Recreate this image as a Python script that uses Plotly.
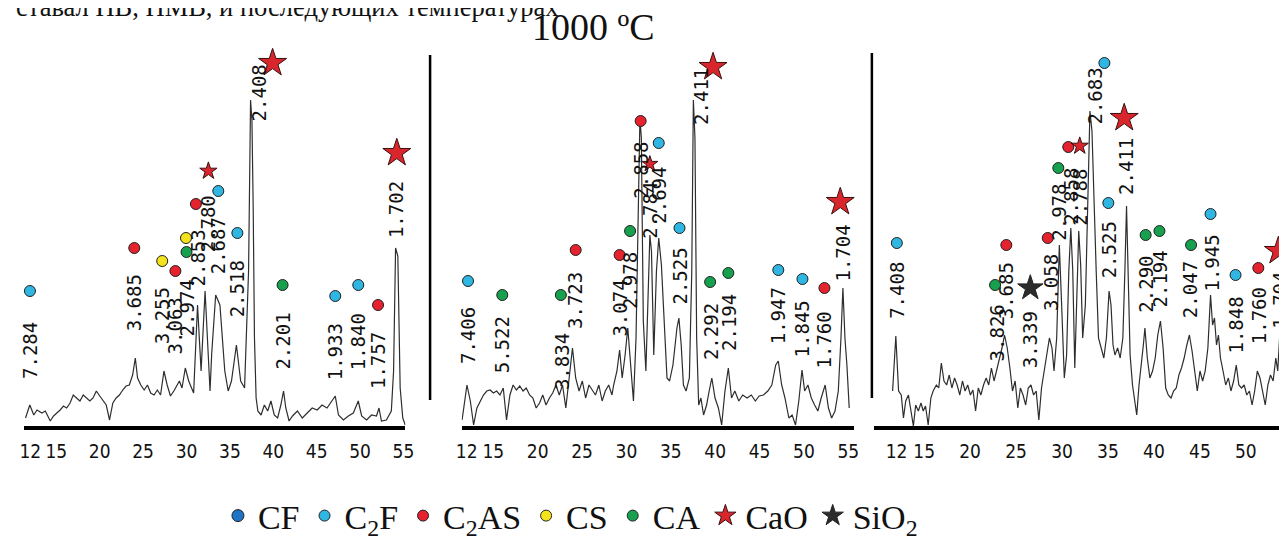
import plotly.graph_objects as go

# ---------------- data ----------------
tick_vals = [12, 15, 20, 25, 30, 35, 40, 45, 50, 55]
tick_text = ["12", "15", "20", "25", "30", "35", "40", "45", "50", "55"]

# panel 1 : 2-theta (deg) and intensity (a.u.)
p1_tt = [11.45, 11.94, 12.40, 12.77, 13.34, 13.73, 14.30, 14.68, 15.05, 15.44,
         15.82, 16.19, 16.58, 16.95, 17.33, 17.72, 18.10, 18.47, 18.86, 19.23,
         19.61, 20.00, 20.37, 20.75, 21.13, 21.51, 21.89, 22.27, 22.65, 23.03,
         23.41, 23.79, 24.10, 24.36, 24.73, 25.12, 25.50, 25.87, 26.26, 26.64,
         27.01, 27.40, 27.77, 28.15, 28.54, 28.91, 29.18, 29.48, 29.86, 30.25,
         30.82, 31.27, 31.68, 32.14, 32.71, 32.90, 33.36, 33.85, 34.41, 34.80,
         35.18, 35.75, 36.24, 36.69, 37.15, 37.38, 37.54, 37.68, 37.83, 38.02,
         38.22, 38.59, 38.97, 39.35, 39.73, 40.11, 40.50, 40.87, 41.18, 41.44,
         41.82, 42.21, 42.78, 43.34, 43.91, 44.48, 45.05, 45.62, 46.19, 46.76,
         47.14, 47.51, 48.08, 48.65, 49.22, 49.79, 50.18, 50.75, 51.32, 51.89,
         52.18, 52.46, 53.03, 53.60, 53.86, 54.09, 54.35, 54.62, 54.92, 55.20]
p1_int = [8, 21, 11, 16, 13, 15, 5, 10, 13, 16,
          20, 18, 23, 31, 28, 25, 31, 28, 25, 28,
          35, 30, 25, 21, 6, 23, 28, 31, 36, 40,
          41, 51, 68, 48, 41, 36, 41, 33, 31, 36,
          31, 55, 41, 30, 35, 40, 45, 38, 58, 45,
          33, 121, 55, 135, 35, 72, 131, 121, 55, 35,
          45, 81, 45, 38, 155, 326, 305, 221, 88, 28,
          15, 11, 21, 15, 25, 11, 8, 21, 35, 18,
          5, 10, 15, 8, 13, 18, 16, 21, 18, 25,
          30, 11, 6, 10, 13, 25, 10, 6, 11, 10,
          18, 5, 6, 15, 55, 178, 170, 38, 8, 1]

# panel 2
p2_tt = [11.48, 12.03, 12.41, 12.78, 13.15, 13.53, 13.89, 14.26, 14.64, 15.01,
         15.37, 15.75, 16.12, 16.49, 16.87, 17.23, 17.60, 17.98, 18.35, 18.71,
         19.09, 19.46, 19.83, 20.21, 20.57, 20.94, 21.32, 21.69, 22.06, 22.43,
         22.80, 23.17, 23.55, 23.92, 24.28, 24.66, 25.03, 25.40, 25.78, 26.14,
         26.51, 26.89, 27.26, 27.62, 28.00, 28.37, 28.56, 28.93, 29.23, 29.52,
         29.85, 30.15, 30.49, 30.79, 31.08, 31.34, 31.52, 31.68, 31.90, 32.19,
         32.49, 32.64, 32.82, 33.08, 33.38, 33.64, 33.94, 34.31, 34.57, 34.86,
         35.24, 35.69, 35.91, 36.17, 36.42, 36.72, 37.09, 37.36, 37.54, 37.72,
         37.91, 38.14, 38.39, 38.69, 39.03, 39.32, 39.62, 39.98, 40.36, 40.73,
         41.10, 41.48, 41.84, 42.21, 42.66, 43.10, 43.59, 44.07, 44.52, 44.96,
         45.44, 45.93, 46.38, 46.82, 47.11, 47.49, 47.86, 48.30, 48.67, 49.05,
         49.42, 49.78, 50.08, 50.45, 50.83, 51.20, 51.57, 51.94, 52.39, 52.76,
         53.12, 53.50, 53.87, 54.17, 54.39, 54.62, 54.84, 55.10]
p2_int = [6, 41, 25, 1, 18, 25, 31, 35, 36, 33,
          35, 31, 38, 6, 31, 41, 36, 40, 35, 38,
          31, 28, 18, 23, 31, 21, 28, 33, 41, 31,
          41, 18, 48, 78, 48, 35, 45, 28, 41, 36,
          31, 41, 25, 35, 41, 31, 41, 55, 76, 48,
          71, 98, 55, 25, 88, 221, 308, 288, 105, 55,
          155, 191, 175, 71, 155, 188, 161, 88, 48, 45,
          61, 98, 108, 81, 41, 35, 48, 155, 326, 288,
          88, 21, 28, 11, 21, 35, 48, 28, 18, 1,
          35, 58, 28, 35, 25, 31, 28, 31, 25, 30,
          31, 35, 41, 61, 65, 41, 28, 8, 11, 1,
          25, 56, 35, 41, 28, 21, 15, 28, 41, 18,
          8, 15, 35, 88, 138, 88, 61, 18]

# panel 3
p3_tt = [11.57, 11.92, 12.22, 12.51, 12.75, 13.00, 13.29, 13.58, 13.83, 14.08,
         14.37, 14.66, 14.90, 15.15, 15.44, 15.73, 15.98, 16.33, 16.59, 16.87,
         17.16, 17.45, 17.73, 18.02, 18.31, 18.59, 18.88, 19.17, 19.45, 19.74,
         20.03, 20.31, 20.60, 20.89, 21.17, 21.46, 21.75, 22.03, 22.32, 22.61,
         22.89, 23.18, 23.47, 23.75, 24.04, 24.33, 24.61, 24.90, 25.19, 25.47,
         25.76, 26.05, 26.33, 26.62, 26.91, 27.19, 27.48, 27.77, 28.05, 28.34,
         28.63, 28.91, 29.13, 29.42, 29.71, 29.96, 30.25, 30.50, 30.74, 30.96,
         31.17, 31.39, 31.60, 31.82, 32.03, 32.25, 32.54, 32.83, 33.04, 33.26,
         33.47, 33.72, 33.97, 34.26, 34.55, 34.83, 35.12, 35.33, 35.55, 35.76,
         36.05, 36.33, 36.62, 36.84, 37.02, 37.19, 37.41, 37.67, 37.91, 38.13,
         38.38, 38.64, 38.85, 39.02, 39.28, 39.56, 39.85, 40.14, 40.42, 40.71,
         41.00, 41.28, 41.56, 41.86, 42.14, 42.43, 42.72, 43.00, 43.29, 43.58,
         43.86, 44.15, 44.44, 44.72, 45.01, 45.30, 45.58, 45.87, 46.16, 46.38,
         46.59, 46.81, 47.02, 47.24, 47.52, 47.81, 48.10, 48.38, 48.67, 48.96,
         49.24, 49.53, 49.82, 50.10, 50.39, 50.68, 50.96, 51.25, 51.54, 51.82,
         52.11, 52.40, 52.68, 52.97, 53.26, 53.47, 53.69, 53.97, 54.26, 54.47]
p3_int = [35, 90, 35, 31, 8, 25, 31, 15, 0, 21,
          15, 23, 15, 20, 1, 28, 35, 41, 38, 63,
          45, 41, 51, 38, 48, 41, 31, 45, 35, 41,
          31, 36, 15, 38, 31, 41, 48, 41, 58, 45,
          55, 68, 78, 91, 78, 58, 35, 45, 18, 38,
          31, 21, 38, 41, 31, 35, 6, 38, 55, 68,
          88, 78, 55, 88, 181, 121, 48, 71, 155, 198,
          155, 58, 121, 195, 161, 88, 121, 238, 315, 295,
          221, 155, 88, 78, 68, 88, 135, 121, 81, 71,
          78, 68, 88, 155, 220, 155, 71, 41, 25, 11,
          41, 61, 81, 98, 68, 48, 55, 68, 91, 105,
          78, 38, 31, 28, 35, 38, 51, 58, 68, 81,
          91, 75, 55, 35, 55, 45, 55, 78, 131, 101,
          108, 81, 91, 68, 55, 41, 48, 35, 45, 61,
          41, 38, 41, 31, 35, 21, 35, 55, 48, 35,
          21, 41, 51, 45, 68, 55, 91, 78, 55, 48]

# peak labels (d-spacing, A) and their 2-theta
p1_lab = ["7.284", "3.685", "3.255", "3.063", "2.974", "2.853", "2.780", "2.687",
          "2.518", "2.408", "2.201", "1.933", "1.840", "1.757", "1.702"]
p1_lab_x = [11.96, 23.98, 27.20, 28.72, 30.10, 31.38, 32.52, 33.66,
            35.86, 38.40, 41.07, 47.14, 49.79, 52.07, 54.15]
p2_lab = ["7.406", "5.522", "3.834", "3.723", "3.074", "2.978", "2.858", "2.784", "2.694",
          "2.525", "2.411", "2.292", "2.194", "1.947", "1.845", "1.760", "1.704"]
p2_lab_x = [12.15, 16.01, 22.75, 24.20, 29.23, 30.41, 31.60, 32.64, 33.64,
            35.98, 38.39, 39.54, 41.55, 47.11, 49.83, 52.31, 54.35]
p3_lab = ["7.408", "3.826", "3.685", "3.339", "3.058", "2.978", "2.858", "2.788", "2.683",
          "2.525", "2.411", "2.290", "2.194", "2.047", "1.945", "1.848", "1.760", "1.704"]
p3_lab_x = [12.03, 22.97, 23.94, 26.55, 28.81, 29.64, 30.96, 31.93, 33.54,
            35.15, 36.95, 39.10, 40.71, 43.94, 46.27, 48.88, 51.46, 53.69]

# phase markers
p1_mk_phase = ["C2F", "C2AS", "CS", "C2AS", "CA", "CS", "C2AS", "CaO", "C2F", "C2F",
               "CaO", "CA", "C2F", "C2F", "C2AS", "CaO"]
p1_mk_x = [11.96, 23.98, 27.20, 28.72, 30.00, 29.94, 31.08, 32.52, 33.66, 35.86,
           39.92, 41.07, 47.14, 49.79, 52.07, 54.23]
p2_mk_phase = ["C2F", "CA", "CA", "C2AS", "C2AS", "CA", "C2AS", "CaO", "C2F", "C2F",
               "CaO", "CA", "CA", "C2F", "C2F", "C2AS", "CaO"]
p2_mk_x = [12.15, 16.01, 22.61, 24.28, 29.23, 30.41, 31.60, 32.64, 33.64, 35.98,
           39.76, 39.43, 41.48, 47.11, 49.83, 52.31, 54.09]
p3_mk_phase = ["C2F", "CA", "C2AS", "SiO2", "C2AS", "CA", "C2AS", "CaO", "C2F", "C2F",
               "CaO", "CA", "CA", "CA", "C2F", "C2F", "C2AS", "CaO"]
p3_mk_x = [12.03, 22.72, 23.94, 26.55, 28.45, 29.60, 30.68, 31.93, 34.61, 35.04,
           36.77, 39.10, 40.60, 44.04, 46.16, 48.88, 51.36, 53.54]

phases = ["CF", "C2F", "C2AS", "CS", "CA", "CaO", "SiO2"]
phase_names = ["CF", "C<sub>2</sub>F", "C<sub>2</sub>AS", "CS", "CA", "CaO", "SiO<sub>2</sub>"]

# ---------------- layout / style ----------------
# heights (a.u.) where labels are centred and markers are drawn
p1_lab_y = [76, 123, 110, 100, 118, 168, 202, 180, 137, 333, 85, 74, 84, 65, 216]
p2_lab_y = [90, 81, 64, 126, 118, 145, 256, 216, 231, 150, 330, 94, 104, 110, 97, 86, 173]
p3_lab_y = [136, 93, 135, 86, 143, 214, 230, 229, 330, 176, 260, 142, 147, 136, 163, 101, 110, 126]
p1_mk_y = [135, 178, 165, 155, 174, 188, 222, 255, 235, 193, 363, 141, 130, 141, 121, 273]
p2_mk_y = [145, 131, 131, 176, 171, 195, 305, 262, 283, 198, 359, 144, 153, 156, 147, 138, 224]
p3_mk_y = [183, 141, 181, 138, 188, 258, 279, 280, 363, 223, 308, 191, 195, 181, 212, 151, 158, 175]
p1_mk_sz = [11, 11, 11, 11, 11, 11, 11, 13, 11, 11, 21, 11, 11, 11, 11, 21]
p2_mk_sz = [11, 11, 11, 11, 11, 11, 11, 12, 11, 11, 21, 11, 11, 11, 11, 11, 21]
p3_mk_sz = [11, 11, 11, 19, 11, 11, 11, 13, 11, 11, 21, 11, 11, 11, 11, 11, 11, 21]

phase_color = {"CF": "#1f74c4", "C2F": "#2fb6e2", "C2AS": "#e5222e", "CS": "#f4e21c",
               "CA": "#17a04e", "CaO": "#d9262c", "SiO2": "#2b2b2b"}
phase_symbol = {"CF": "circle", "C2F": "circle", "C2AS": "circle", "CS": "circle",
                "CA": "circle", "CaO": "star", "SiO2": "star"}

panels = [
    dict(tt=p1_tt, it=p1_int, lab=p1_lab, lx=p1_lab_x, ly=p1_lab_y,
         mp=p1_mk_phase, mx=p1_mk_x, my=p1_mk_y, ms=p1_mk_sz,
         xa="x", dom=[10 / 1287, 396 / 1287], rng=[11.26, 55.22]),
    dict(tt=p2_tt, it=p2_int, lab=p2_lab, lx=p2_lab_x, ly=p2_lab_y,
         mp=p2_mk_phase, mx=p2_mk_x, my=p2_mk_y, ms=p2_mk_sz,
         xa="x2", dom=[453 / 1287, 850 / 1287], rng=[11.44, 55.65]),
    dict(tt=p3_tt, it=p3_int, lab=p3_lab, lx=p3_lab_x, ly=p3_lab_y,
         mp=p3_mk_phase, mx=p3_mk_x, my=p3_mk_y, ms=p3_mk_sz,
         xa="x3", dom=[870 / 1287, 1.0], rng=[9.53, 54.37]),
]

fig = go.Figure()

for p in panels:
    fig.add_trace(go.Scatter(x=p["tt"], y=p["it"], mode="lines", xaxis=p["xa"], yaxis="y",
                             line=dict(color="#2e2e2e", width=1.2), showlegend=False,
                             hoverinfo="skip"))

for ph, nm in zip(phases, phase_names):
    shown = False
    for p in panels:
        idx = [i for i, q in enumerate(p["mp"]) if q == ph]
        if not idx:
            continue
        fig.add_trace(go.Scatter(
            x=[p["mx"][i] for i in idx], y=[p["my"][i] for i in idx],
            mode="markers", xaxis=p["xa"], yaxis="y", name=nm, legendgroup=ph,
            showlegend=not shown,
            marker=dict(symbol=phase_symbol[ph], color=phase_color[ph], opacity=1,
                        size=[p["ms"][i] for i in idx],
                        line=dict(color="#3a1010" if ph == "CaO" else "#222", width=1)),
            cliponaxis=False))
        shown = True
    if not shown:
        fig.add_trace(go.Scatter(
            x=[None], y=[None], mode="markers", xaxis="x", yaxis="y", name=nm,
            legendgroup=ph, showlegend=True,
            marker=dict(symbol=phase_symbol[ph], color=phase_color[ph], size=12, opacity=1,
                        line=dict(color="#222", width=1))))

annotations = []
for p in panels:
    for t, x, y in zip(p["lab"], p["lx"], p["ly"]):
        annotations.append(dict(x=x, y=y, xref=p["xa"], yref="y", text=t, textangle=-90,
                                showarrow=False, xanchor="center", yanchor="middle",
                                font=dict(family="DejaVu Sans Mono", size=19, color="#111")))

annotations.append(dict(x=586 / 1287, y=0.965, xref="paper", yref="paper", text="1000 ºC",
                        showarrow=False, xanchor="center", yanchor="middle",
                        font=dict(family="Liberation Serif", size=38, color="#111")))
annotations.append(dict(x=0.0, y=1.0025, xref="paper", yref="paper",
                        text="ставал ПВ, ПМВ, и последующих температурах",
                        showarrow=False, xanchor="left", yanchor="middle",
                        font=dict(family="Liberation Serif", size=26.5, color="#111")))

axis_common = dict(showgrid=False, zeroline=False, showline=True, linecolor="black",
                   linewidth=4, tickmode="array", tickvals=tick_vals, ticktext=tick_text,
                   ticks="", tickangle=0, ticklabelstandoff=5, anchor="y", fixedrange=True,
                   tickfont=dict(family="Liberation Sans Narrow, DejaVu Sans Condensed, Liberation Sans",
                                 size=19, color="#111"))

fig.update_layout(
    width=1287, height=544, margin=dict(l=0, r=0, t=0, b=0),
    paper_bgcolor="white", plot_bgcolor="white",
    xaxis=dict(domain=panels[0]["dom"], range=panels[0]["rng"], **axis_common),
    xaxis2=dict(domain=panels[1]["dom"], range=panels[1]["rng"], **axis_common),
    xaxis3=dict(domain=panels[2]["dom"], range=panels[2]["rng"], **axis_common),
    yaxis=dict(domain=[126 / 544, 1.0], range=[0, 418], visible=False, fixedrange=True),
    annotations=annotations,
    showlegend=True,
    legend=dict(orientation="h", x=563 / 1287, xanchor="center", y=7 / 544, yanchor="bottom",
                font=dict(family="Liberation Serif", size=34, color="#111"),
                itemwidth=30, bgcolor="rgba(0,0,0,0)", traceorder="normal"),
    shapes=[
        dict(type="line", xref="paper", yref="paper", x0=421 / 1287, x1=421 / 1287,
             y0=152 / 544, y1=497 / 544, line=dict(color="black", width=2.5)),
        dict(type="line", xref="paper", yref="paper", x0=868 / 1287, x1=868 / 1287,
             y0=154 / 544, y1=499 / 544, line=dict(color="black", width=2.5)),
    ],
)

fig.write_html("out.html")
